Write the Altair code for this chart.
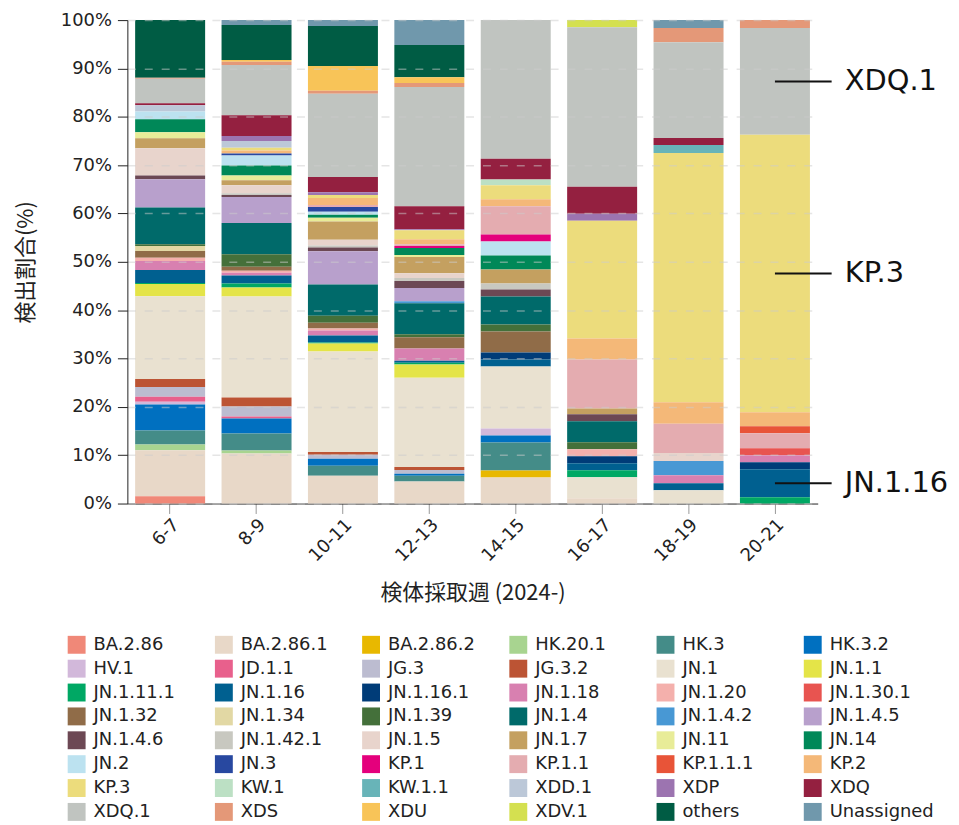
import altair as alt
import pandas as pd

WEEKS = ["6-7", "8-9", "10-11", "12-13", "14-15", "16-17", "18-19", "20-21"]

VARIANTS = ["BA.2.86", "BA.2.86.1", "BA.2.86.2", "HK.20.1", "HK.3", "HK.3.2",
            "HV.1", "JD.1.1", "JG.3", "JG.3.2", "JN.1", "JN.1.1",
            "JN.1.11.1", "JN.1.16", "JN.1.16.1", "JN.1.18", "JN.1.20", "JN.1.30.1",
            "JN.1.32", "JN.1.34", "JN.1.39", "JN.1.4", "JN.1.4.2", "JN.1.4.5",
            "JN.1.4.6", "JN.1.42.1", "JN.1.5", "JN.1.7", "JN.11", "JN.14",
            "JN.2", "JN.3", "KP.1", "KP.1.1", "KP.1.1.1", "KP.2",
            "KP.3", "KW.1", "KW.1.1", "XDD.1", "XDP", "XDQ",
            "XDQ.1", "XDS", "XDU", "XDV.1", "others", "Unassigned"]

COLORS = ["#F08878", "#E8D8C8", "#E8B800", "#A8D490", "#448C88", "#0070C0",
          "#D2B8DA", "#E8608C", "#BCBCD0", "#BC5434", "#E9E1D0", "#E4E448",
          "#00A864", "#006090", "#003C78", "#D880B0", "#F4B0AC", "#E85450",
          "#906C48", "#E2D8A4", "#44703A", "#006A6A", "#4898D4", "#B8A0CC",
          "#6C4854", "#C8C8C0", "#E8D4CC", "#C4A060", "#E8EC98", "#008858",
          "#BCE2F0", "#2848A0", "#E4007C", "#E4ACB0", "#E85438", "#F4B878",
          "#ECDC7C", "#BCE0C4", "#68B4B8", "#BCC8D8", "#9C74B0", "#942040",
          "#C0C4C0", "#E49878", "#F8C458", "#D4E050", "#005C44", "#7098AC"]

W_6_7 = [("others", 11.9), ("XDS", 0.2), ("XDQ.1", 5.1), ("XDQ", 0.4), ("XDD.1", 1.3),
         ("JN.2", 1.6), ("JN.14", 2.7), ("JN.11", 1.2), ("JN.1.7", 2.1), ("JN.1.5", 5.6),
         ("JN.1.4.6", 0.8), ("JN.1.4.5", 5.8), ("JN.1.4", 7.6), ("JN.1.39", 0.4),
         ("JN.1.34", 1.0), ("JN.1.32", 1.4), ("JN.1.20", 0.7), ("JN.1.18", 1.85),
         ("JN.1.16", 2.7), ("JN.1.11.1", 0.2), ("JN.1.1", 2.5), ("JN.1", 17.1),
         ("JG.3.2", 1.65), ("JG.3", 2.05), ("JD.1.1", 1.0), ("HV.1", 0.6),
         ("HK.3.2", 5.35), ("HK.3", 2.9), ("HK.20.1", 1.2), ("BA.2.86.1", 9.5),
         ("BA.2.86", 1.5)]

W_8_9 = [("Unassigned", 1.0), ("others", 7.2), ("XDU", 0.35), ("XDS", 0.7), ("XDQ.1", 10.3),
         ("XDQ", 4.3), ("XDP", 1.0), ("XDD.1", 1.4), ("KP.3", 0.6), ("KP.2", 0.6),
         ("JN.3", 0.4), ("JN.2", 2.05), ("JN.14", 2.05), ("JN.11", 1.0), ("JN.1.7", 1.0),
         ("JN.1.5", 1.65), ("JN.1.42.1", 0.4), ("JN.1.4.6", 0.4), ("JN.1.4.5", 5.35),
         ("JN.1.4", 6.4), ("JN.1.39", 2.6), ("JN.1.32", 0.8), ("JN.1.20", 0.4),
         ("JN.1.18", 0.6), ("JN.1.16", 1.65), ("JN.1.11.1", 0.8), ("JN.1.1", 1.85),
         ("JN.1", 20.8), ("JG.3.2", 1.85), ("JG.3", 2.05), ("JD.1.1", 0.4),
         ("HK.3.2", 3.1), ("HK.3", 3.5), ("HK.20.1", 0.6), ("BA.2.86.1", 10.3)]

W_10_11 = [("Unassigned", 1.2), ("others", 8.2), ("XDU", 5.1), ("XDS", 0.6), ("XDQ.1", 17.1),
           ("XDQ", 3.1), ("XDP", 0.6), ("KP.3", 0.6), ("KP.2", 1.45), ("KP.1.1", 0.4),
           ("JN.3", 1.0), ("JN.2", 0.6), ("JN.14", 0.6), ("JN.11", 0.8), ("JN.1.7", 3.7),
           ("JN.1.5", 1.2), ("JN.1.42.1", 0.4), ("JN.1.4.6", 0.8), ("JN.1.4.5", 6.8),
           ("JN.1.4", 6.4), ("JN.1.39", 1.45), ("JN.1.32", 1.2), ("JN.1.20", 0.4),
           ("JN.1.18", 1.0), ("JN.1.16", 1.45), ("JN.1.11.1", 0.2), ("JN.1.1", 1.65),
           ("JN.1", 20.6), ("JG.3.2", 0.6), ("JG.3", 0.8), ("HK.3.2", 1.45),
           ("HK.3", 2.05), ("BA.2.86.1", 5.7)]

W_12_13 = [("Unassigned", 5.1), ("others", 6.6), ("XDU", 1.2), ("XDS", 0.8), ("XDQ.1", 24.5),
           ("XDQ", 4.7), ("XDP", 0.2), ("KP.3", 1.85), ("KP.2", 1.0), ("KP.1.1", 0.4),
           ("KP.1", 0.4), ("JN.14", 1.45), ("JN.11", 0.4), ("JN.1.7", 3.3), ("JN.1.5", 1.0),
           ("JN.1.42.1", 0.6), ("JN.1.4.6", 1.45), ("JN.1.4.5", 2.7), ("JN.1.4.2", 0.4),
           ("JN.1.4", 6.4), ("JN.1.39", 0.6), ("JN.1.32", 2.3), ("JN.1.18", 2.5),
           ("JN.1.16", 0.4), ("JN.1.11.1", 0.4), ("JN.1.1", 2.7), ("JN.1", 18.3),
           ("JG.3.2", 0.6), ("JG.3", 0.8), ("HK.3.2", 0.4), ("HK.3", 1.2),
           ("BA.2.86.1", 4.5)]

W_14_15 = [("XDQ.1", 28.6), ("XDQ", 4.3), ("KW.1", 1.2), ("KP.3", 2.9), ("KP.2", 1.45),
           ("KP.1.1", 5.8), ("KP.1", 1.45), ("JN.2", 2.9), ("JN.14", 2.9), ("JN.1.7", 2.9),
           ("JN.1.42.1", 1.2), ("JN.1.4.6", 1.45), ("JN.1.4", 5.8), ("JN.1.39", 1.45),
           ("JN.1.32", 4.3), ("JN.1.16.1", 1.45), ("JN.1.16", 1.45), ("JN.1", 12.8),
           ("HV.1", 1.45), ("HK.3.2", 1.45), ("HK.3", 5.8), ("BA.2.86.2", 1.45),
           ("BA.2.86.1", 5.35)]

W_16_17 = [("XDV.1", 1.45), ("XDQ.1", 32.9), ("XDQ", 5.55), ("XDP", 1.45), ("KP.3", 24.3),
           ("KP.2", 4.3), ("KP.1.1", 10.1), ("JN.1.7", 1.2), ("JN.1.4.6", 1.45),
           ("JN.1.4", 4.3), ("JN.1.39", 1.45), ("JN.1.20", 1.45), ("JN.1.16.1", 1.45),
           ("JN.1.16", 1.45), ("JN.1.11.1", 1.45), ("JN.1", 4.3), ("BA.2.86.1", 1.1)]

W_18_19 = [("Unassigned", 1.65), ("XDS", 2.9), ("XDQ.1", 19.75), ("XDQ", 1.45),
           ("KW.1.1", 1.65), ("KP.3", 51.4), ("KP.2", 4.45), ("KP.1.1", 6.05),
           ("JN.1.5", 1.65), ("JN.1.4.2", 2.9), ("JN.1.18", 1.65), ("JN.1.16", 1.45),
           ("JN.1", 2.75)]

W_20_21 = [("XDS", 1.65), ("XDQ.1", 22.0), ("KP.3", 57.2), ("KP.2", 2.9), ("KP.1.1.1", 1.45),
           ("KP.1.1", 3.1), ("JN.1.30.1", 1.45), ("JN.1.18", 1.45), ("JN.1.16.1", 1.45),
           ("JN.1.16", 5.75), ("JN.1.11.1", 1.3)]

SERIES = [W_6_7, W_8_9, W_10_11, W_12_13, W_14_15, W_16_17, W_18_19, W_20_21]
ANNOTATED = ["XDQ.1", "KP.3", "JN.1.16"]

rows = []
for wk, ser in zip(WEEKS, SERIES):
    for name, val in ser:
        rows.append({"week": wk, "variant": name, "value": val,
                     "ord": VARIANTS.index(name)})
df = pd.DataFrame(rows)

# annotation positions: middle of the segment in the last week's stacked bar
last = df[df.week == WEEKS[-1]].sort_values("ord")
total = last.value.sum()
cum = 0.0
ann = []
for _, r in last.iterrows():
    if r.variant in ANNOTATED:
        ann.append({"week": WEEKS[-1], "label": r.variant,
                    "mid": (cum + r.value / 2) / total})
    cum += r.value
ann_df = pd.DataFrame(ann)

W, H = 694, 486
FONT = "DejaVu Sans, Noto Sans CJK JP"
CJK = "Noto Sans CJK JP"

bars = alt.Chart(df).mark_bar().encode(
    x=alt.X("week:N", sort=WEEKS,
            scale=alt.Scale(paddingInner=0.19, paddingOuter=0.09),
            axis=alt.Axis(title="検体採取週 (2024-)", labelAngle=-45, labelFontSize=18,
                          titleFontSize=22, titleFontWeight="normal", titlePadding=18,
                          tickColor="#999999", tickSize=10, domainColor="#222222",
                          labelColor="#222222", titleColor="#222222", grid=False,
                          titleFont=CJK)),
    y=alt.Y("value:Q", stack="normalize",
            scale=alt.Scale(domain=[0, 1]),
            axis=alt.Axis(title="検出割合(%)", format=".0%",
                          values=[0, 0.1, 0.2, 0.3, 0.4, 0.5, 0.6, 0.7, 0.8, 0.9, 1.0],
                          labelFontSize=18, labelPadding=6, titleFontSize=22,
                          titleFontWeight="normal",
                          titlePadding=23, tickColor="#222222", tickSize=10,
                          domainColor="#222222", labelColor="#222222", titleColor="#222222",
                          grid=True, gridColor="#cccccc", gridOpacity=0.5,
                          gridDash=[8, 9], gridWidth=1.5, zindex=1,
                          titleFont=CJK)),
    color=alt.Color("variant:N", sort=VARIANTS,
                    scale=alt.Scale(domain=VARIANTS, range=COLORS),
                    legend=alt.Legend(title=None, orient="none", legendX=-60, legendY=619,
                                      direction="horizontal", columns=6, symbolLimit=0,
                                      symbolType="square", symbolSize=324,
                                      symbolStrokeWidth=0, labelFontSize=18,
                                      labelOffset=8, rowPadding=6, columnPadding=17,
                                      gridAlign="all", labelColor="#222222",
                                      labelLimit=200)),
    order=alt.Order("ord:Q", sort="ascending"),
)

rules = alt.Chart(ann_df).mark_rule(color="#111111", strokeWidth=2).encode(
    x=alt.X("week:N", sort=WEEKS, bandPosition=0.5),
    x2=alt.value(W + 14),
    y=alt.Y("mid:Q", scale=alt.Scale(domain=[0, 1])),
)

labels = alt.Chart(ann_df).mark_text(align="left", baseline="middle", fontSize=29,
                                     dx=35, color="#111111").encode(
    x=alt.X("week:N", sort=WEEKS, bandPosition=1),
    y=alt.Y("mid:Q", scale=alt.Scale(domain=[0, 1])),
    text="label:N",
)

chart = alt.layer(bars, rules, labels).properties(
    width=W, height=H,
    padding={"left": 6, "top": 1, "right": 2, "bottom": 2},
).configure(font=FONT).configure_view(stroke=None)

chart.save("out.html", embed_options={"renderer": "svg", "actions": False})
